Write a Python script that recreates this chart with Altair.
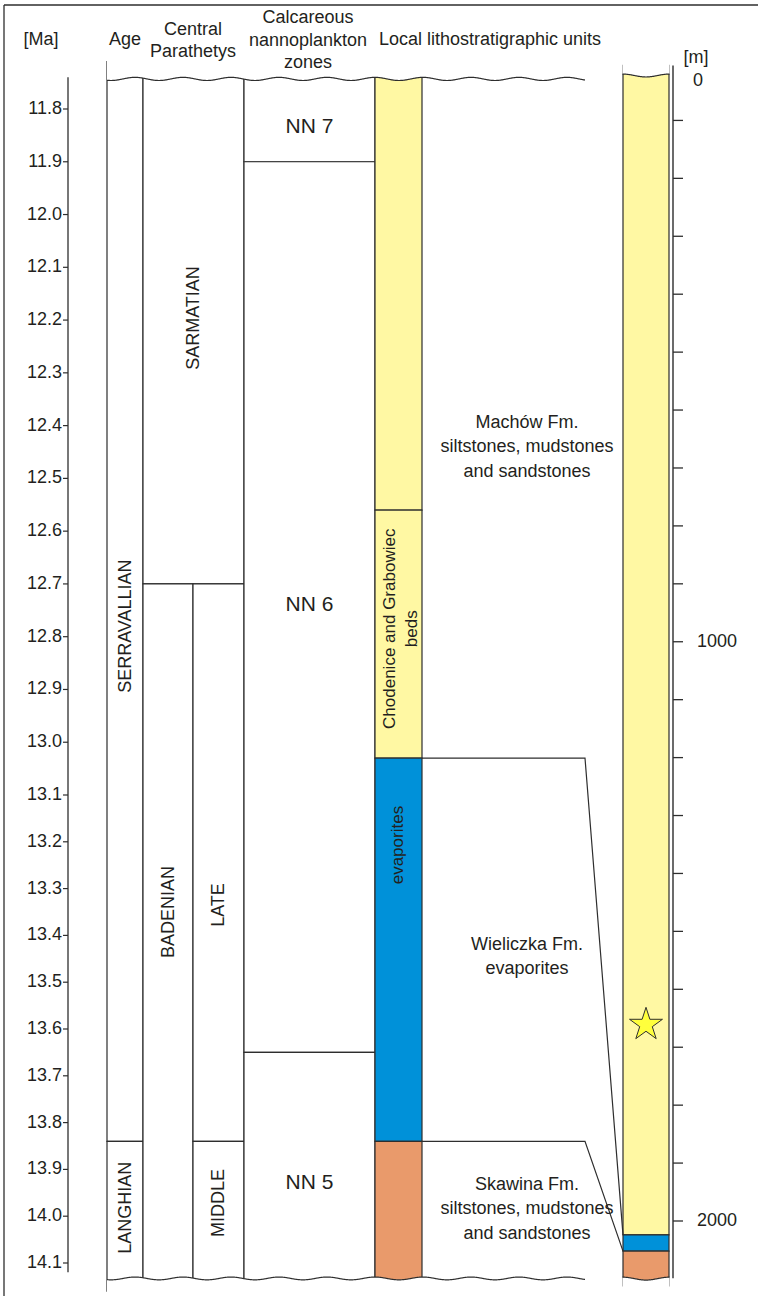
import altair as alt
import numpy as np
import pandas as pd

W, H = 758, 1296
FONT = "Liberation Sans, Arial, Helvetica, sans-serif"
INK = "#231f20"
LINE = "#2e2e2e"

# ---------------- data ----------------
# age axis (Ma)
ma_ticks = [11.8, 11.9, 12.0, 12.1, 12.2, 12.3, 12.4, 12.5, 12.6, 12.7, 12.8, 12.9,
            13.0, 13.1, 13.2, 13.3, 13.4, 13.5, 13.6, 13.7, 13.8, 13.9, 14.0, 14.1]
SEC_TOP, SEC_BASE = 11.74, 14.13

# stages
age_names = ["SERRAVALLIAN", "LANGHIAN"]
age_top = [SEC_TOP, 13.84]
age_base = [13.84, SEC_BASE]
age_label_at = [12.78, 13.982]

# Central Paratethys stages / substages
para_names = ["SARMATIAN", "BADENIAN", "LATE", "MIDDLE"]
para_top = [SEC_TOP, 12.7, 12.7, 13.84]
para_base = [12.7, SEC_BASE, 13.84, SEC_BASE]
para_label_at = [12.196, 13.35, 13.335, 13.972]

# calcareous nannoplankton zones
nn_names = ["NN 7", "NN 6", "NN 5"]
nn_top = [SEC_TOP, 11.9, 13.65]
nn_base = [11.9, 13.65, SEC_BASE]
nn_label_at = [11.835, 12.74, 13.93]

# local lithostratigraphic units (age column)
litho_kind = ["Machów", "Chodenice", "Wieliczka", "Skawina"]
litho_top = [SEC_TOP, 12.56, 13.03, 13.84]
litho_base = [12.56, 13.03, 13.84, SEC_BASE]
litho_labels = [["Chodenice and Grabowiec", "beds"], ["evaporites"]]
litho_label_at = [12.785, 13.207]

fm_text = [["Machów Fm.", "siltstones, mudstones", "and sandstones"],
           ["Wieliczka Fm.", "evaporites"],
           ["Skawina Fm.", "siltstones, mudstones", "and sandstones"]]
fm_first_line = [12.395, 13.42, 13.933]

# borehole column (m)
depth_ticks = [100, 200, 300, 400, 500, 600, 700, 800, 900, 1000,
               1100, 1200, 1300, 1400, 1500, 1600, 1700, 1800, 1900, 2000]
depth_labels = [1000, 2000]
well_kind = ["Machów", "Wieliczka", "Skawina"]
well_top = [20, 2024, 2052]
well_base = [2024, 2052, 2097]
star_depth = [1661]

# correlation of unit boundaries: age (Ma) -> depth (m)
tie_ma = [13.03, 13.84]
tie_depth = [2024, 2052]

# ---------------- layout ----------------
AGE_RANGE_DOM = [11.8, 13.1, 14.1]
AGE_RANGE_PX = [109, 795, 1263]
DEPTH_DOM = [0, 2000]
DEPTH_PX = [62.5, 1221]

X_AXIS = 68
AGE_COL = (107, 143)
PARA_COL = (143, 244)
PARA_SPLIT = 193
NN_COL = (244, 375)
LITHO_COL = (375, 422)
FM_X = 527
KNEE_X = 585
WELL_COL = (623, 669)
WELL_AXIS = 673

xs = alt.Scale(domain=[0, W], range=[0, W], nice=False, zero=False)
ys = alt.Scale(domain=AGE_RANGE_DOM, range=AGE_RANGE_PX, nice=False, zero=False)
ym = alt.Scale(domain=DEPTH_DOM, range=DEPTH_PX, nice=False, zero=False)


def X(f):
    return alt.X(f, type="quantitative", scale=xs, axis=None)


def YA(f):
    return alt.Y(f, type="quantitative", scale=ys, axis=None)


def YM(f):
    return alt.Y(f, type="quantitative", scale=ym, axis=None)


def depth_to_age(d):
    px = DEPTH_PX[0] + (d - DEPTH_DOM[0]) * (DEPTH_PX[1] - DEPTH_PX[0]) / (DEPTH_DOM[1] - DEPTH_DOM[0])
    return float(np.interp(px, AGE_RANGE_PX, AGE_RANGE_DOM))


layers = []

# outer frame
layers.append(alt.Chart(pd.DataFrame({"a": [0]})).mark_rule(color=LINE, strokeWidth=1.3).encode(
    x=alt.value(4), x2=alt.value(W), y=alt.value(5)))
layers.append(alt.Chart(pd.DataFrame({"a": [0]})).mark_rule(color=LINE, strokeWidth=1.3).encode(
    x=alt.value(4), y=alt.value(5), y2=alt.value(H)))

# ---- boxes of the stratigraphic columns ----
OVER = 0.03
boxes = []
for n, t, b, at in zip(age_names, age_top, age_base, age_label_at):
    boxes.append(dict(name=n, x0=AGE_COL[0], x1=AGE_COL[1], top=t, base=b, at=at))
for n, t, b, at in zip(para_names, para_top, para_base, para_label_at):
    x0, x1 = {"SARMATIAN": PARA_COL, "BADENIAN": (PARA_COL[0], PARA_SPLIT),
              "LATE": (PARA_SPLIT, PARA_COL[1]), "MIDDLE": (PARA_SPLIT, PARA_COL[1])}[n]
    boxes.append(dict(name=n, x0=x0, x1=x1, top=t, base=b, at=at))
for n, t, b, at in zip(nn_names, nn_top, nn_base, nn_label_at):
    boxes.append(dict(name=n, x0=NN_COL[0], x1=NN_COL[1], top=t, base=b, at=at))
box_df = pd.DataFrame(boxes)
box_df["top"] = box_df["top"].where(box_df["top"] > SEC_TOP, SEC_TOP - OVER)
box_df["base"] = box_df["base"].where(box_df["base"] < SEC_BASE, SEC_BASE + OVER)
layers.append(alt.Chart(box_df).mark_rect(fill="white", stroke=LINE, strokeWidth=1.2).encode(
    x=X("x0"), x2="x1:Q", y=YA("top"), y2="base:Q"))

# lithostratigraphic colour column
lit_df = pd.DataFrame({"kind": litho_kind, "top": litho_top, "base": litho_base})
lit_df["top"] = lit_df["top"].where(lit_df["top"] > SEC_TOP, SEC_TOP - OVER)
lit_df["base"] = lit_df["base"].where(lit_df["base"] < SEC_BASE, SEC_BASE + OVER)
lit_df["x0"], lit_df["x1"] = LITHO_COL
lit_colors = alt.Scale(domain=["Machów", "Chodenice", "Wieliczka", "Skawina"],
                       range=["#fff8a3", "#fff8a3", "#0091d9", "#e99a6b"])
layers.append(alt.Chart(lit_df).mark_rect(stroke=LINE, strokeWidth=1.2).encode(
    x=X("x0"), x2="x1:Q", y=YA("top"), y2="base:Q",
    fill=alt.Fill("kind:N", scale=lit_colors, legend=None)))

# borehole column
well_df = pd.DataFrame({"kind": well_kind, "top": well_top, "base": well_base})
well_df.loc[0, "top"] = well_top[0] - 15
well_df.loc[len(well_df) - 1, "base"] = well_base[-1] + 15
well_df["x0"], well_df["x1"] = WELL_COL
well_colors = alt.Scale(domain=["Machów", "Wieliczka", "Skawina"],
                        range=["#ffffb4", "#00a3e0", "#e99a6b"])
layers.append(alt.Chart(well_df).mark_rect(stroke=LINE, strokeWidth=1.2).encode(
    x=X("x0"), x2="x1:Q", y=YM("top"), y2="base:Q",
    fill=alt.Fill("kind:N", scale=well_colors, legend=None)))

# ---- wavy break lines ----
def wave(x0, x1, x_phase, period, level, amp, outward):
    xx = np.linspace(x0, x1, int((x1 - x0) * 2) + 1)
    yy = level + amp * (1 - np.cos(2 * np.pi * (xx - x_phase) / period)) / 2
    return pd.DataFrame({"x": xx, "y": yy, "y2": outward})


A_MA = 0.006
A_M = 5.0
w_top = wave(AGE_COL[0], KNEE_X, LITHO_COL[0], 48, SEC_TOP, A_MA, SEC_TOP - 0.06)
w_bot = wave(AGE_COL[0], KNEE_X, LITHO_COL[0], 48, SEC_BASE, A_MA, SEC_BASE + 0.06)
for wdf in (w_top, w_bot):
    layers.append(alt.Chart(wdf).mark_area(color="white", opacity=1).encode(
        x=X("x"), y=YA("y"), y2="y2:Q"))
    layers.append(alt.Chart(wdf).mark_line(color=LINE, strokeWidth=1.2).encode(
        x=X("x"), y=YA("y")))
mw_top = wave(WELL_COL[0] - 0.5, WELL_COL[1] + 0.5, WELL_COL[0], 46, well_top[0], A_M, well_top[0] - 20)
mw_bot = wave(WELL_COL[0] - 0.5, WELL_COL[1] + 0.5, WELL_COL[0], 46, well_base[-1], A_M, well_base[-1] + 25)
for wdf in (mw_top, mw_bot):
    layers.append(alt.Chart(wdf).mark_area(color="white", opacity=1).encode(
        x=X("x"), y=YM("y"), y2="y2:Q"))
    layers.append(alt.Chart(wdf).mark_line(color=LINE, strokeWidth=1.2).encode(
        x=X("x"), y=YM("y")))

# ---- age axis ----
layers.append(alt.Chart(pd.DataFrame({"t": [SEC_TOP], "b": [14.12]})).mark_rule(
    color=LINE, strokeWidth=1.3).encode(x=alt.value(X_AXIS), y=YA("t"), y2="b:Q"))
tick_df = pd.DataFrame({"ma": ma_ticks})
layers.append(alt.Chart(tick_df).mark_rule(color=LINE, strokeWidth=1.2).encode(
    x=alt.value(X_AXIS - 5), x2=alt.value(X_AXIS), y=YA("ma")))
layers.append(alt.Chart(tick_df).mark_text(align="right", baseline="middle", font=FONT,
                                           fontSize=18, color=INK).encode(
    x=alt.value(X_AXIS - 6), y=YA("ma"), text=alt.Text("ma:Q", format=".1f")))

# ---- depth axis ----
layers.append(alt.Chart(pd.DataFrame({"t": [well_top[0] - 15], "b": [well_base[-1] + 2]})).mark_rule(
    color="#6b6b6b", strokeWidth=2).encode(x=alt.value(WELL_AXIS), y=YM("t"), y2="b:Q"))
dt_df = pd.DataFrame({"m": depth_ticks})
layers.append(alt.Chart(dt_df).mark_rule(color=LINE, strokeWidth=1.3).encode(
    x=alt.value(WELL_AXIS), x2=alt.value(WELL_AXIS + 10), y=YM("m")))
layers.append(alt.Chart(pd.DataFrame({"m": depth_labels})).mark_text(
    align="left", baseline="middle", font=FONT, fontSize=18, color=INK).encode(
    x=alt.value(WELL_AXIS + 24), y=YM("m"), text=alt.Text("m:Q", format="d")))
# the zero label sits just below the top of the column
layers.append(alt.Chart(pd.DataFrame({"m": [0]})).mark_text(
    align="left", baseline="middle", dy=18, font=FONT, fontSize=18, color=INK).encode(
    x=alt.value(WELL_AXIS + 20), y=YM("m"), text=alt.Text("m:Q", format="d")))

# ---- correlation lines ----
tie_rows = []
for i, (a, d) in enumerate(zip(tie_ma, tie_depth)):
    tie_rows += [dict(g=i, o=0, x=LITHO_COL[1], ma=a),
                 dict(g=i, o=1, x=KNEE_X, ma=a),
                 dict(g=i, o=2, x=WELL_COL[0], ma=depth_to_age(d))]
layers.append(alt.Chart(pd.DataFrame(tie_rows)).mark_line(color=LINE, strokeWidth=1.2).encode(
    x=X("x"), y=YA("ma"), detail="g:N", order="o:Q"))

# ---- star marking the sample level ----
STAR = ("M0,-1L0.2245,-0.309L0.9511,-0.309L0.3633,0.118L0.5878,0.809L0,0.382"
        "L-0.5878,0.809L-0.3633,0.118L-0.9511,-0.309L-0.2245,-0.309Z")
layers.append(alt.Chart(pd.DataFrame({"m": star_depth})).mark_point(
    shape=STAR, size=1200, filled=True, fill="#ffff3c", stroke=LINE, strokeWidth=1,
    opacity=1).encode(x=alt.value((WELL_COL[0] + WELL_COL[1]) / 2), y=YM("m")))

# ---- unit labels ----
rot_x = {"SERRAVALLIAN": 126, "LANGHIAN": 126, "SARMATIAN": 194, "BADENIAN": 169,
         "LATE": 219, "MIDDLE": 219}
rot_df = box_df[box_df["name"].isin(rot_x.keys())].copy()
rot_df["tx"] = rot_df["name"].map(rot_x)
layers.append(alt.Chart(rot_df).mark_text(angle=270, align="center", baseline="middle",
                                          font=FONT, fontSize=18, color=INK).encode(
    x=X("tx"), y=YA("at"), text="name:N"))

nn_df = box_df[box_df["name"].isin(nn_names)].copy()
nn_df["tx"] = (NN_COL[0] + NN_COL[1]) / 2
layers.append(alt.Chart(nn_df).mark_text(align="center", baseline="middle", font=FONT,
                                         fontSize=21, color=INK).encode(
    x=X("tx"), y=YA("at"), text="name:N"))

lit_lab = pd.DataFrame({"txt": litho_labels, "at": litho_label_at})
lit_lab["tx"] = [390, 398]
layers.append(alt.Chart(lit_lab).mark_text(angle=270, align="center", baseline="middle",
                                           font=FONT, fontSize=17, lineHeight=22, color=INK).encode(
    x=X("tx"), y=YA("at"), text="txt"))

fm_df = pd.DataFrame({"txt": fm_text, "first": fm_first_line})
fm_df["tx"] = FM_X
layers.append(alt.Chart(fm_df).mark_text(align="center", baseline="middle", font=FONT,
                                         fontSize=18, lineHeight=24.5, color=INK).encode(
    x=X("tx"), y=YA("first"), text="txt"))

# ---- column headings ----
headings = [("[Ma]", 41, 40), ("Age", 125, 40), ("Central", 193, 30), ("Parathetys", 193, 52),
            ("Calcareous", 308, 18), ("nannoplankton", 308, 41), ("zones", 308, 63),
            ("Local lithostratigraphic units", 490, 40), ("[m]", 696, 58)]
for txt, hx, hy in headings:
    layers.append(alt.Chart(pd.DataFrame({"t": [txt]})).mark_text(
        align="center", baseline="middle", font=FONT, fontSize=18, color=INK).encode(
        x=alt.value(hx), y=alt.value(hy), text="t:N"))

chart = alt.layer(*layers).resolve_scale(y="independent").properties(
    width=W, height=H, padding=0, autosize=alt.AutoSizeParams(type="none"),
    background="white"
).configure_view(stroke=None)

chart.save("out.html", embed_options={"renderer": "svg", "actions": False})
